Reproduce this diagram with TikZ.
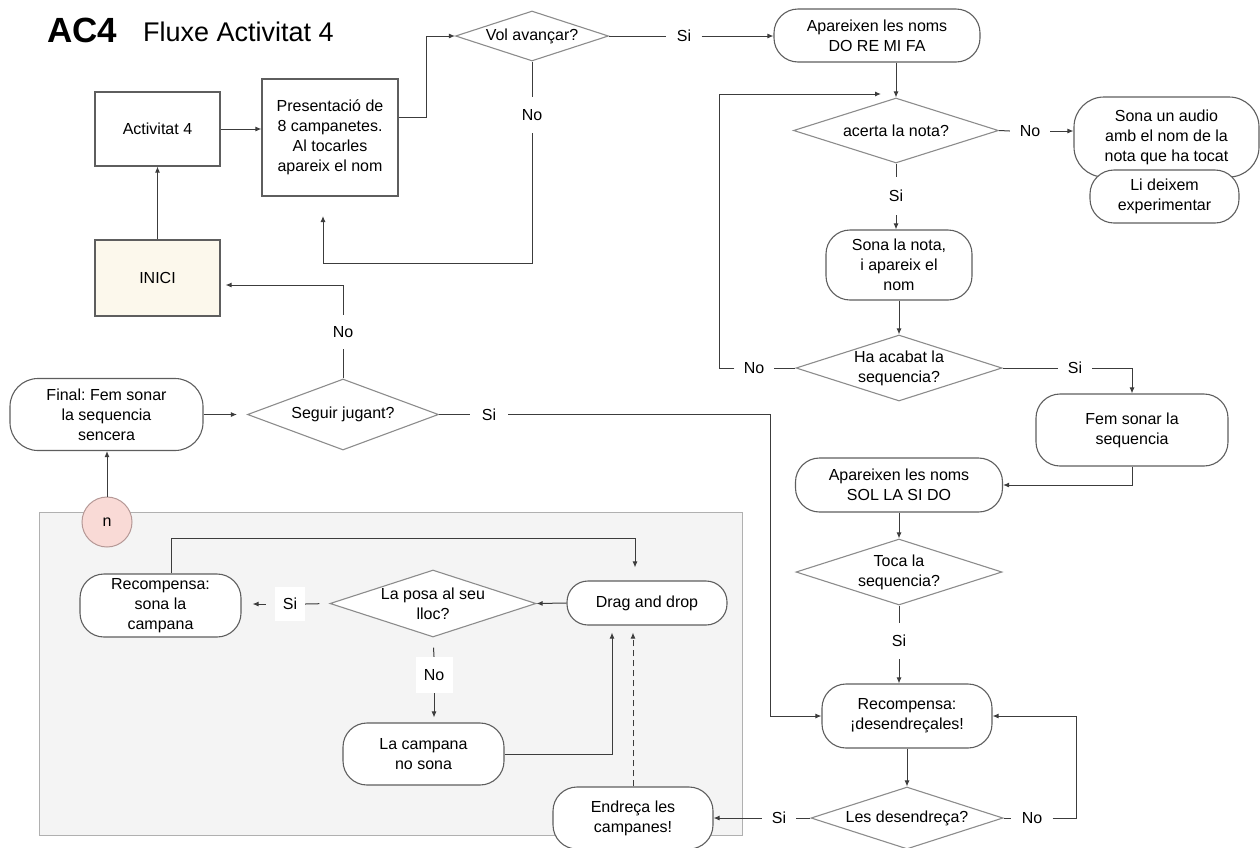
\documentclass[tikz,border=0pt]{standalone}
\usepackage{fontspec}
\setmainfont{Liberation Sans}
\frenchspacing
\usetikzlibrary{shapes.geometric,arrows.meta,calc}
\definecolor{bd}{HTML}{5E5E5E}
\definecolor{dd}{HTML}{8C8C8C}
\definecolor{ln}{HTML}{3C3C3C}
\definecolor{cream}{HTML}{FCF8EC}
\definecolor{pinkc}{HTML}{F9DAD6}
\definecolor{pinkb}{HTML}{B59896}
\definecolor{greyfill}{HTML}{F4F4F4}
\definecolor{greyline}{HTML}{B0B0B0}
\begin{document}
\begin{tikzpicture}[x=1pt,y=-1pt,
 every node/.style={font=\fontsize{16}{20}\selectfont},
 box/.style={draw=bd, line width=1.1pt, fill=white, rectangle, align=center, inner sep=0pt},
 term/.style={draw=bd, line width=1.1pt, fill=white, rectangle, rounded corners=24pt, align=center, inner sep=0pt},
 dia/.style={draw=dd, line width=1.1pt, fill=white, diamond, inner sep=0pt},
 lbl/.style={inner sep=0pt, align=center},
 wlbl/.style={fill=white, inner sep=0pt, align=center},
 arr/.style={draw=ln, line width=1pt, -{Latex[length=6pt,width=5pt]}},
 con/.style={draw=ln, line width=1pt},
]
\useasboundingbox (0,0) rectangle (1260,847);
% title
\node[anchor=base west, inner sep=0pt, font=\bfseries\fontsize{35}{35}\selectfont] (t1) at (47,42) {AC4};
\node[anchor=base west, inner sep=0pt, font=\fontsize{27}{27}\selectfont] (t2) at (143,41) {Fluxe Activitat 4};
% grey group
\draw[draw=greyline, fill=greyfill, line width=1pt] (39,512) rectangle (742,835);
% nodes
\node[box, minimum width=125pt, minimum height=74pt] (act) at (157.5,129) {Activitat 4};
\node[box, minimum width=136pt, minimum height=117pt] (pres) at (330,137.5) {Presentació de\\8 campanetes.\\Al tocarles\\apareix el nom};
\node[box, fill=cream, minimum width=125pt, minimum height=76pt] (inici) at (157.5,278) {INICI};
\node[dia, minimum width=153pt, minimum height=50pt, label={[lbl]center:Vol avançar?}] (vol) at (532,36) {};
\node[term, minimum width=206pt, minimum height=53pt] (apa1) at (877,35.5) {Apareixen les noms\\DO RE MI FA};
\node[dia, minimum width=205pt, minimum height=65pt, label={[lbl]center:acerta la nota?}] (acerta) at (896,130.5) {};
\node[term, rounded corners=30pt, minimum width=185pt, minimum height=80pt] (audio) at (1166.5,137) {Sona un audio\\amb el nom de la\\nota que ha tocat};
\node[term, minimum width=149pt, minimum height=53pt] (deixem) at (1164.5,196.5) {Li deixem\\experimentar};
\node[term, minimum width=146pt, minimum height=70pt] (sona) at (899,265) {Sona la nota,\\i apareix el\\nom};
\node[dia, minimum width=206pt, minimum height=66pt, label={[lbl]center:{Ha acabat la\\sequencia?}}] (acabat) at (899,368) {};
\node[term, minimum width=192pt, minimum height=72pt] (fem) at (1132,430) {Fem sonar la\\sequencia};
\node[term, minimum width=207pt, minimum height=54pt] (apa2) at (899,485) {Apareixen les noms\\SOL LA SI DO};
\node[dia, minimum width=206pt, minimum height=66pt, label={[lbl]center:{Toca la\\sequencia?}}] (toca) at (899,572) {};
\node[term, minimum width=170pt, minimum height=64pt] (rec2) at (907,716) {Recompensa:\\¡desendreçales!};
\node[dia, minimum width=192pt, minimum height=62pt, label={[lbl]center:Les desendreça?}] (desen) at (907,818) {};
\node[term, minimum width=160pt, minimum height=62pt] (endreca) at (633,818) {Endreça les\\campanes!};
\node[term, rounded corners=21pt, minimum width=160pt, minimum height=44pt] (drag) at (647,603) {Drag and drop};
\node[dia, minimum width=206pt, minimum height=67pt, label={[lbl]center:{La posa al seu\\lloc?}}] (posa) at (433,603.5) {};
\node[term, minimum width=161pt, minimum height=63pt] (rec1) at (160.5,605.5) {Recompensa:\\sona la\\campana};
\node[term, minimum width=161pt, minimum height=62pt] (campana) at (423.5,754) {La campana\\no sona};
\node[term, rounded corners=28pt, minimum width=193pt, minimum height=72pt] (final) at (106.5,414.5) {Final: Fem sonar\\la sequencia\\sencera};
\node[dia, minimum width=191pt, minimum height=71pt, label={[lbl]center:Seguir jugant?}] (seguir) at (343,414.5) {};
\node[circle, draw=pinkb, fill=pinkc, line width=1pt, minimum size=50pt, inner sep=0pt] (ncirc) at (107,522) {n};
% labels
\node[lbl, minimum height=36pt] (lno1) at (532,115) {No};
\node[lbl, minimum width=35pt] (lsi1) at (684,36) {Si};
\node[lbl, minimum height=34pt] (lno2) at (343,332) {No};
\node[lbl, minimum width=38pt] (lsi2) at (489,414.5) {Si};
\node[lbl, minimum height=38pt] (lsi3) at (896,196) {Si};
\node[lbl, minimum width=40pt] (lno3) at (1030,131) {No};
\node[lbl, minimum width=39pt] (lno4) at (754,368) {No};
\node[lbl, minimum width=34pt] (lsi4) at (1075,368) {Si};
\node[lbl, minimum height=36pt] (lsi5) at (899,641) {Si};
\node[lbl, minimum width=34pt] (lsi6) at (779,818) {Si};
\node[lbl, minimum width=41pt] (lno5) at (1032,818) {No};
\node[wlbl, minimum width=30pt, minimum height=34pt] (lsi7) at (290,604) {Si};
\node[wlbl, minimum width=37pt, minimum height=36pt] (lno6) at (434,675) {No};
\coordinate (presin) at (323,216);
\coordinate (loopin) at (881,94);
% connectors
\draw[arr] (inici.north) -- (act.south);
\draw[arr] (act.east) -- (act.east -| pres.west);
\draw[arr] ([yshift=20.5pt]pres.east) -- ++(28,0) |- (vol.west);
\draw[con] (vol.south) -- (lno1.north);
\draw[arr] (lno1.south) -- (532,263) -| (presin);
\draw[con] (vol.east) -- (lsi1.west);
\draw[arr] (lsi1.east) -- (lsi1.east -| apa1.west);
\draw[arr] (acerta.north |- apa1.south) -- (acerta.north);
\draw[con] (acerta.south) -- (lsi3.north);
\draw[arr] (lsi3.south) -- (lsi3.south |- sona.north);
\draw[con] (acerta.east) -- (lno3.west);
\draw[arr] (lno3.east) -- (lno3.east -| audio.west);
\draw[arr] (sona.south) -- (acabat.north);
\draw[con] (acabat.west) -- (lno4.east);
\draw[arr] (lno4.west) -- (719,368) -- (719,94) -- (loopin);
\draw[con] (acabat.east) -- (lsi4.west);
\draw[arr] (lsi4.east) -| (fem.north);
\draw[arr] (fem.south) |- (apa2.east);
\draw[arr] (apa2.south) -- (toca.north);
\draw[con] (toca.south) -- (lsi5.north);
\draw[arr] (lsi5.south) -- (lsi5.south |- rec2.north);
\draw[arr] (rec2.south) -- (desen.north);
\draw[con] (desen.west) -- (lsi6.east);
\draw[arr] (lsi6.west) -- (endreca.east);
\draw[con] (desen.east) -- (lno5.west);
\draw[arr] (lno5.east) -- (1076,818) |- (rec2.east);
\draw[con] (seguir.east) -- (lsi2.west);
\draw[arr] (lsi2.east) -- (770,414.5) |- (rec2.west);
\draw[con] (seguir.north) -- (lno2.south);
\draw[arr] (lno2.north) -- (343,285) -- ([xshift=5pt,yshift=-7pt]inici.east);
\draw[arr, shorten >=10pt] (final.east) -- (seguir.west);
\draw[arr] (ncirc.north) -- (ncirc.north |- final.south);
\draw[arr, dash pattern=on 6pt off 4pt, shorten >=7pt] (endreca.north) -- (endreca.north |- drag.south);
\draw[arr, shorten >=7pt] (campana.east) -| ([xshift=-35pt]drag.south);
\draw[arr] (drag.west) -- (posa.east);
\draw[con, shorten <=10pt] (posa.west) -- (lsi7.east);
\draw[arr, shorten <=9pt, shorten >=11pt] (lsi7.west) -- (lsi7.west -| rec1.east);
\draw[con, shorten <=10pt] (posa.south) -- (lno6.north);
\draw[arr, shorten >=5pt] (lno6.south) -- (lno6.south |- campana.north);
\draw[arr, shorten >=13pt] ([xshift=10.5pt]rec1.north) -- ++(0,-35) -| ([xshift=-12pt]drag.north);
\end{tikzpicture}
\end{document}
